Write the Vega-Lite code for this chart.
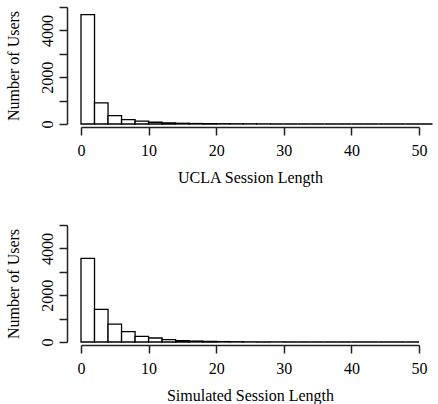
{
  "$schema": "https://vega.github.io/schema/vega-lite/v6.json",
  "background": "white",
  "autosize": "none",
  "padding": {"left": 81, "top": 7, "right": 357, "bottom": 397},
  "datasets": {
    "ucla": [
      {"start": 0, "end": 2, "users": 4670},
      {"start": 2, "end": 4, "users": 900},
      {"start": 4, "end": 6, "users": 360},
      {"start": 6, "end": 8, "users": 190},
      {"start": 8, "end": 10, "users": 120},
      {"start": 10, "end": 12, "users": 75},
      {"start": 12, "end": 14, "users": 50},
      {"start": 14, "end": 16, "users": 30},
      {"start": 16, "end": 18, "users": 20},
      {"start": 18, "end": 20, "users": 15},
      {"start": 20, "end": 22, "users": 12},
      {"start": 22, "end": 24, "users": 10},
      {"start": 24, "end": 26, "users": 8},
      {"start": 26, "end": 28, "users": 6},
      {"start": 28, "end": 30, "users": 0},
      {"start": 30, "end": 32, "users": 0},
      {"start": 32, "end": 34, "users": 0},
      {"start": 34, "end": 36, "users": 0},
      {"start": 36, "end": 38, "users": 0},
      {"start": 38, "end": 40, "users": 0},
      {"start": 40, "end": 42, "users": 0},
      {"start": 42, "end": 44, "users": 0},
      {"start": 44, "end": 46, "users": 0},
      {"start": 46, "end": 48, "users": 0},
      {"start": 48, "end": 50, "users": 0},
      {"start": 50, "end": 52, "users": 0}
    ],
    "simulated": [
      {"start": 0, "end": 2, "users": 3575},
      {"start": 2, "end": 4, "users": 1390},
      {"start": 4, "end": 6, "users": 760},
      {"start": 6, "end": 8, "users": 445},
      {"start": 8, "end": 10, "users": 240},
      {"start": 10, "end": 12, "users": 170},
      {"start": 12, "end": 14, "users": 100},
      {"start": 14, "end": 16, "users": 60},
      {"start": 16, "end": 18, "users": 40},
      {"start": 18, "end": 20, "users": 25},
      {"start": 20, "end": 22, "users": 18},
      {"start": 22, "end": 24, "users": 12},
      {"start": 24, "end": 26, "users": 8},
      {"start": 26, "end": 28, "users": 0},
      {"start": 28, "end": 30, "users": 6},
      {"start": 30, "end": 32, "users": 0},
      {"start": 32, "end": 34, "users": 0},
      {"start": 34, "end": 36, "users": 0},
      {"start": 36, "end": 38, "users": 0},
      {"start": 38, "end": 40, "users": 0},
      {"start": 40, "end": 42, "users": 0},
      {"start": 42, "end": 44, "users": 0},
      {"start": 44, "end": 46, "users": 0},
      {"start": 46, "end": 48, "users": 0},
      {"start": 48, "end": 50, "users": 0}
    ]
  },
  "config": {
    "view": {"stroke": null},
    "font": "Liberation Serif",
    "axis": {
      "grid": false,
      "labelFlush": false,
      "labelOverlap": false,
      "domainColor": "#222",
      "domainWidth": 1.5,
      "tickColor": "#222",
      "tickWidth": 1.5,
      "tickSize": 8,
      "labelColor": "black",
      "labelFont": "Liberation Serif",
      "labelFontSize": 16,
      "titleColor": "black",
      "titleFont": "Liberation Serif",
      "titleFontSize": 16,
      "titleFontWeight": "normal"
    },
    "axisX": {"offset": 3, "labelPadding": 7, "titlePadding": 11},
    "axisY": {
      "offset": 14,
      "labelAngle": 270,
      "labelAlign": "center",
      "labelBaseline": "bottom",
      "labelPadding": 4,
      "titlePadding": 18
    }
  },
  "vconcat": [
    {
      "width": 338,
      "height": 117,
      "data": {"name": "ucla"},
      "mark": {"type": "rect", "fill": "white", "stroke": "black", "strokeWidth": 1.3, "clip": false},
      "encoding": {
        "x": {
          "field": "start", "type": "quantitative",
          "scale": {"domain": [0, 50], "nice": false, "zero": false},
          "axis": {"values": [0, 10, 20, 30, 40, 50], "format": "d", "title": "UCLA Session Length"}
        },
        "x2": {"field": "end"},
        "y": {
          "field": "users", "type": "quantitative",
          "scale": {"domain": [0, 5000], "nice": false},
          "axis": {
            "values": [0, 1000, 2000, 3000, 4000, 5000],
            "format": "d",
            "labelExpr": "datum.value % 2000 == 0 && datum.value < 5000 ? datum.label : ''",
            "title": "Number of Users"
          }
        },
        "y2": {"datum": 0}
      }
    },
    {
      "width": 338,
      "height": 117,
      "data": {"name": "simulated"},
      "mark": {"type": "rect", "fill": "white", "stroke": "black", "strokeWidth": 1.3, "clip": false},
      "encoding": {
        "x": {
          "field": "start", "type": "quantitative",
          "scale": {"domain": [0, 50], "nice": false, "zero": false},
          "axis": {"values": [0, 10, 20, 30, 40, 50], "format": "d", "title": "Simulated Session Length"}
        },
        "x2": {"field": "end"},
        "y": {
          "field": "users", "type": "quantitative",
          "scale": {"domain": [0, 5000], "nice": false},
          "axis": {
            "values": [0, 1000, 2000, 3000, 4000, 5000],
            "format": "d",
            "labelExpr": "datum.value % 2000 == 0 && datum.value < 5000 ? datum.label : ''",
            "title": "Number of Users"
          }
        },
        "y2": {"datum": 0}
      }
    }
  ],
  "spacing": 39
}
